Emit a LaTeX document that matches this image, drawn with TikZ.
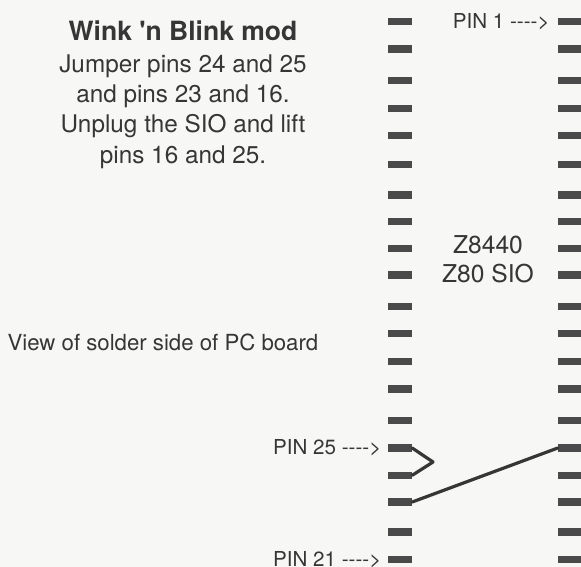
\documentclass[tikz,border=0pt]{standalone}
\usepackage{fontspec}
\newfontfamily\hvN{TeX Gyre Heros}
\definecolor{bg}{HTML}{F7F7F6}
\definecolor{ink}{HTML}{363636}
\definecolor{padgray}{HTML}{4A4A4A}
\newcommand\arr{\mbox{-}\mbox{-}\mbox{-}\mbox{-}\mbox{>}}
\begin{document}
\begin{tikzpicture}[x=1pt,y=-1pt,
  pad/.style={rectangle, fill=padgray, minimum width=24pt, minimum height=7.5pt, inner sep=0pt},
  txt/.style={text=ink, inner sep=0pt},
  body/.style={txt, font={\hvN\fontsize{24.3}{28}\selectfont}, anchor=base},
  chip/.style={txt, font={\hvN\fontsize{24.6}{28}\selectfont}, anchor=base},
  pinlbl/.style={txt, font={\hvN\fontsize{20.6}{24}\selectfont}, anchor=east},
  wire/.style={draw=ink, line width=3.2pt, line join=round, line cap=round}]
\fill[bg] (0,0) rectangle (581,567);
\useasboundingbox (0,0) rectangle (581,567);
% pads: left column pins 40..21 (top to bottom), right column pins 1..20
\foreach \i/\y in {0/21.7,1/49,2/80.3,3/108.7,4/135.7,5/164.3,6/195,7/221.7,8/248.3,9/275,
                   10/306.7,11/333.3,12/361.7,13/389,14/420.7,15/448,16/475.3,17/502,18/532,19/559.7}{
  \pgfmathtruncatemacro\pl{40-\i}
  \pgfmathtruncatemacro\pr{\i+1}
  \node[pad] (L\pl) at (400,\y) {};
  \node[pad] (R\pr) at (570,\y) {};
}
% jumpers
\coordinate (J) at (433,462);
\draw[wire] (L25.east) -- (J) -- (L24.east);
\draw[wire] (L23.east) -- (R16.west);
% labels
\node[pinlbl] (p1) at ([xshift=-8pt]R1.west) {PIN 1 \arr};
\node[pinlbl] (p25) at ([xshift=-6.3pt]L25.west) {PIN 25 \arr};
\node[pinlbl] (p21) at ([xshift=-6.3pt]L21.west) {PIN 21 \arr};
\node[chip] (z1) at (488,253) {Z8440};
\node[chip] (z2) at (488,282) {Z80 SIO};
\node[txt, font={\hvN\fontsize{22.2}{26}\selectfont}, anchor=base west] (view) at (7.4,350) {View of solder side of PC board};
\node[txt, font={\hvN\bfseries\fontsize{26.5}{30}\selectfont}, anchor=base] (title) at (183,41) {Wink 'n Blink mod};
\node[body] (t1) at (183,72.7) {Jumper pins 24 and 25};
\node[body] (t2) at (183,102.7) {and pins 23 and 16.};
\node[body] (t3) at (183,133) {Unplug the SIO and lift};
\node[body] (t4) at (183,163.2) {pins 16 and 25.};
\end{tikzpicture}
\end{document}
